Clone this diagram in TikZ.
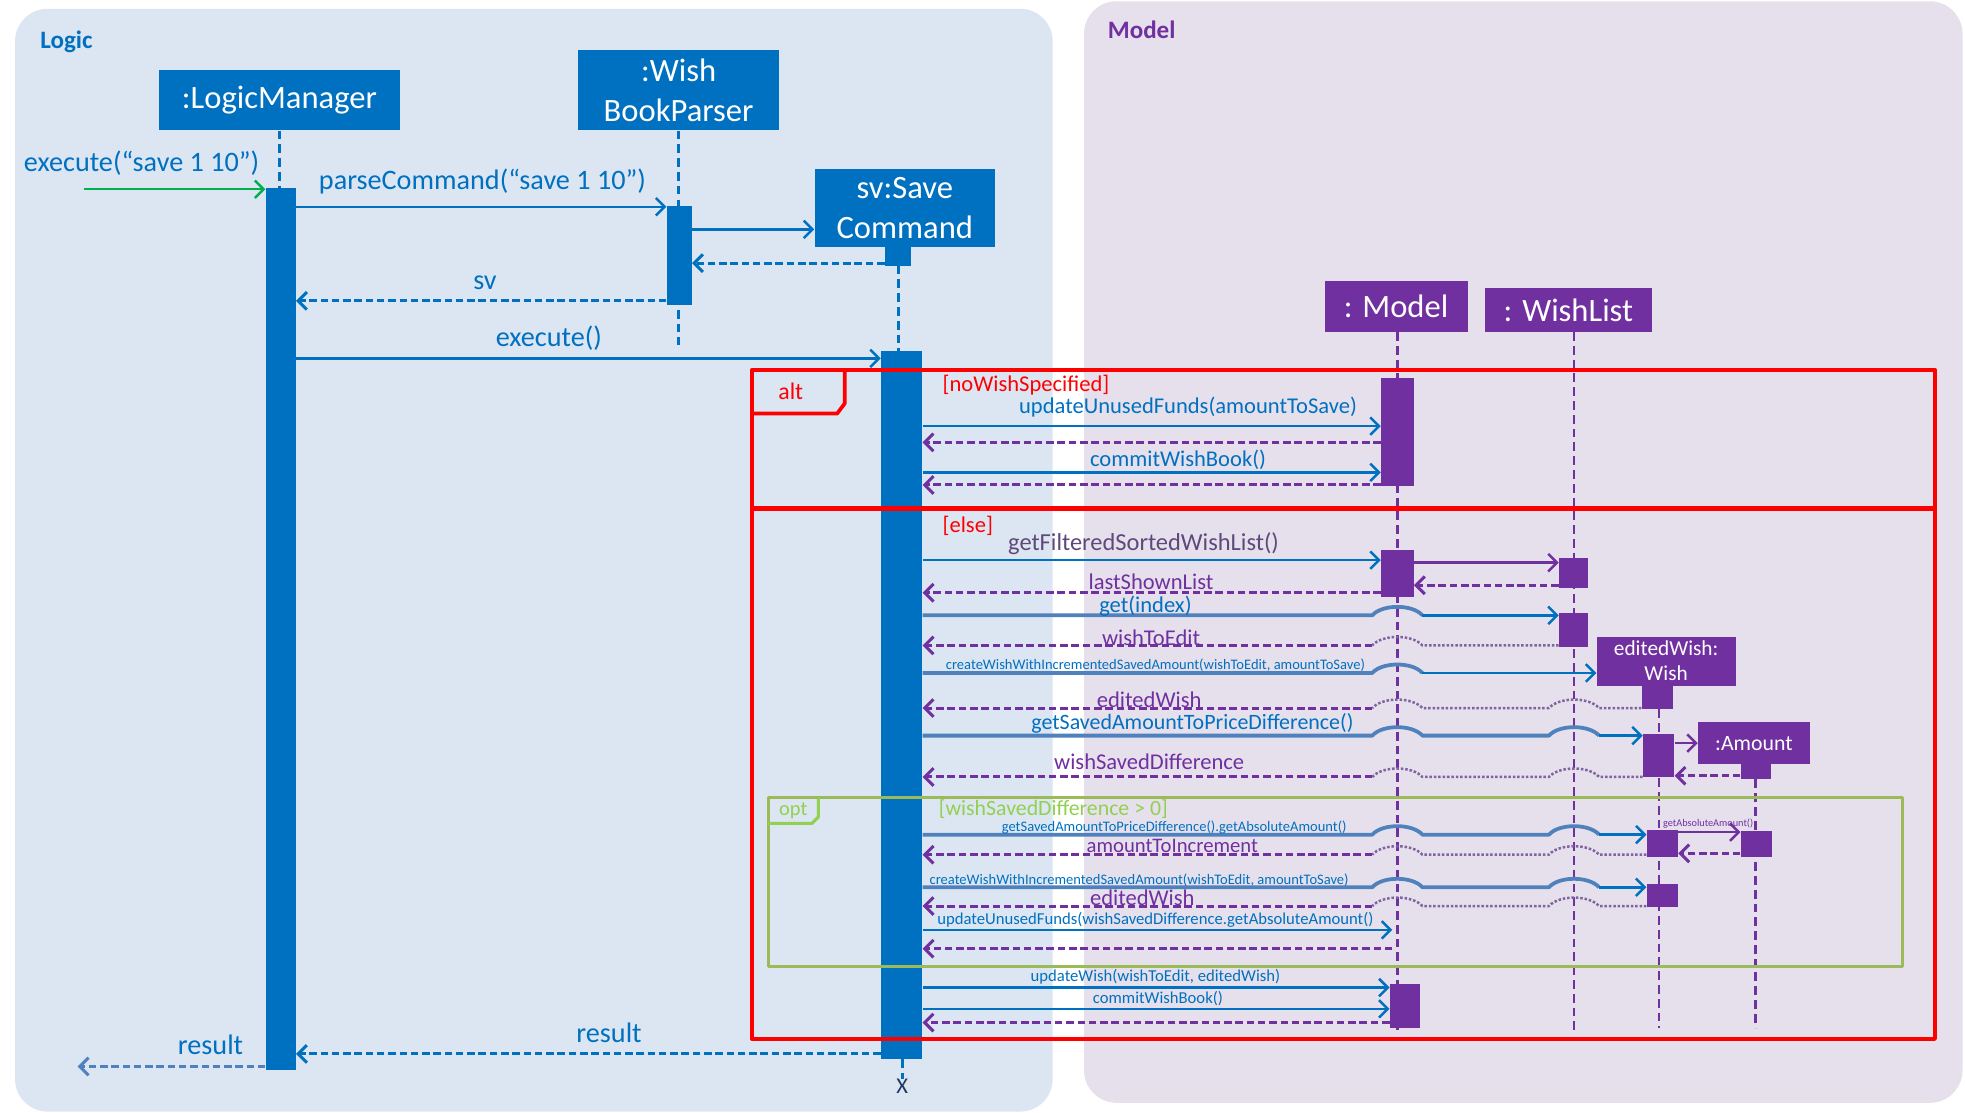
\documentclass[tikz,border=0pt]{standalone}
\usepackage{fontspec}
\setmainfont{Carlito}
\usetikzlibrary{arrows.meta,fit}

\definecolor{lblue}{HTML}{0070C0}
\definecolor{mpurple}{HTML}{7030A0}
\definecolor{steel}{HTML}{4F81BD}
\definecolor{faintp}{HTML}{8064A2}
\definecolor{optgreen}{HTML}{92D050}
\definecolor{optline}{HTML}{9BBB59}
\definecolor{ingreen}{HTML}{00B050}
\definecolor{grayp}{HTML}{5F497A}
\definecolor{logicbg}{HTML}{DCE6F2}
\definecolor{modelbg}{HTML}{E6E0EC}
\definecolor{navy}{HTML}{1F3864}

% jump over a lifeline at x=#1, height y=#2
\newcommand{\hopR}[2]{-- (#1-20,#2) .. controls (#1-12,#2-9) and (#1+12,#2-9) .. (#1+20,#2)}
\newcommand{\hopL}[2]{-- (#1+20,#2) .. controls (#1+12,#2-9) and (#1-12,#2-9) .. (#1-20,#2)}

\begin{document}
\begin{tikzpicture}[x=1pt, y=-1pt, line join=round,
  msgtip/.style={-{Straight Barb[length=7pt,width=14pt]}},
  call/.style={draw=#1, line width=2pt, msgtip}, call/.default=lblue,
  ret/.style={draw=#1, line width=2.4pt, dash pattern=on 6pt off 3pt, msgtip}, ret/.default=mpurple,
  hopline/.style={draw=steel, line width=3pt},
  hopret/.style={draw=faintp, line width=2pt, dash pattern=on 2pt off 1.5pt},
  lhead/.style={fill=#1, text=white, inner sep=0pt, align=center, font=\fontsize{26}{31.5}\selectfont},
  act/.style={fill=#1, inner sep=0pt},
  life/.style={draw=#1, line width=2pt, dash pattern=on 7pt off 4pt},
  lbl/.style={text=#1, inner sep=0pt, font=\fontsize{18}{22}\selectfont}, lbl/.default=lblue,
  fbig/.style={font=\fontsize{22.5}{27}\selectfont},
  fmid/.style={font=\fontsize{13.3}{16}\selectfont},
  fsmall/.style={font=\fontsize{11.6}{14}\selectfont},
  ftiny/.style={font=\fontsize{8.2}{10}\selectfont},
]
\useasboundingbox (0,0) rectangle (1568,888);
\fill[white] (0,0) rectangle (1568,888);

% panels
\fill[logicbg, rounded corners=26pt] (12,7) rectangle (840,887);
\fill[modelbg, rounded corners=26pt] (865,1) rectangle (1566,880);
\node[text=lblue, font=\bfseries\fontsize{20}{24}\selectfont, inner sep=0pt] (pLogic) at (53,33) {Logic};
\node[text=mpurple, font=\bfseries\fontsize{20}{24}\selectfont, inner sep=0pt] (pModel) at (911,24) {Model};

% lifeline heads
\node[lhead=lblue, minimum width=192, minimum height=48] (hLM) at (223,80) {:LogicManager};
\node[lhead=lblue, minimum width=161, minimum height=64] (hWP) at (541.5,72) {:Wish\\BookParser};
\node[lhead=lblue, minimum width=144, minimum height=62] (hSC) at (722,166) {sv:Save\\Command};
\node[lhead=mpurple, minimum width=114, minimum height=41] (hMo) at (1114,244.5) {: Model};
\node[lhead=mpurple, minimum width=133, minimum height=35] (hWL) at (1251.5,247.5) {: WishList};
\node[lhead=mpurple, minimum width=111, minimum height=39, font=\fontsize{17}{20}\selectfont] (hEW) at (1329.5,527.5) {editedWish:\\Wish};
\node[lhead=mpurple, minimum width=89, minimum height=34, font=\fontsize{17.4}{20}\selectfont] (hAm) at (1399.5,593) {:Amount};

% lifelines
\draw[life=lblue] (hLM.south) -- (hLM.south |- 0,150);
\draw[life=lblue] (hWP.south) -- (hWP.south |- 0,275);
\draw[life=lblue] (717,212) -- (717,280);
\draw[life=mpurple] (1115,265) -- (1115,823);
\draw[life=mpurple] (1256,265) -- (1256,824);
\draw[life=mpurple] (1324,566) -- (1324,820);
\draw[life=mpurple] (1401,622) -- (1401,820);

% activations
\node[act=lblue, fit={(212,150) (236,854)}] (actLM) {};
\node[act=lblue, fit={(532,164) (552,243)}] (actWP) {};
\node[act=lblue, fit={(706,196) (727,212)}] (bSC) {};
\node[act=lblue, fit={(703,280) (736,845)}] (actSC) {};
\node[act=mpurple, fit={(1102,302) (1128,388)}] (actMo1) {};
\node[act=mpurple, fit={(1102,439) (1128,476)}] (actMo2) {};
\node[act=mpurple, fit={(1109,785) (1133,820)}] (actMo3) {};
\node[act=mpurple, fit={(1244,445) (1267,469)}] (actWL1) {};
\node[act=mpurple, fit={(1244,489) (1267,516)}] (actWL2) {};
\node[act=mpurple, fit={(1310,547) (1335,566)}] (bEW) {};
\node[act=mpurple, fit={(1311,586) (1336,620)}] (actEW1) {};
\node[act=mpurple, fit={(1314,662) (1339,684)}] (actEW2) {};
\node[act=mpurple, fit={(1314,705) (1339,724)}] (actEW3) {};
\node[act=mpurple, fit={(1389,610) (1413,622)}] (bAm) {};
\node[act=mpurple, fit={(1389,663) (1414,684)}] (actAm) {};

% end of sv
\node[text=navy, font=\fontsize{18}{22}\selectfont, inner sep=0pt] (xEnd) at (720,867) {X};
\draw[life=lblue] (actSC.south -| xEnd) -- (xEnd.north);

% alt / opt frames
\draw[red, line width=3pt] (600,295) rectangle (1544,829);
\draw[red, line width=4pt] (600,406) -- (1544,406);
\draw[red, line width=3pt] (600,330) -- (668,330) -- (674,322) -- (674,295);
\node[lbl=red, font=\fontsize{19}{22}\selectfont] (tAlt) at (631,312) {alt};
\draw[optline, line width=2.5pt] (613,636.5) rectangle (1518,771);
\draw[optgreen, line width=2.5pt] (613,657) -- (648,657) -- (653,652) -- (653,636.5);
\node[lbl=optgreen, font=\fontsize{16.3}{20}\selectfont] (tOpt) at (633,647) {opt};

% logic messages
\coordinate (inStart) at (67,151);
\draw[call=ingreen] (inStart) -- (actLM.west |- inStart);
\draw[call] (actLM.east |- 0,165) -- (actWP.west |- 0,165);
\draw[call] (actWP.east |- 0,183) -- (hSC.west |- 0,183);
\draw[ret=lblue] (bSC.west |- 0,210) -- (actWP.east |- 0,210);
\draw[ret=lblue] (actWP.west |- 0,240) -- (actLM.east |- 0,240);
\draw[call] (actLM.east |- 0,286) -- (actSC.west |- 0,286);

% alt: noWishSpecified
\draw[call] (actSC.east |- 0,340) -- (actMo1.west |- 0,340);
\draw[ret] (actMo1.west |- 0,353) -- (actSC.east |- 0,353);
\draw[call] (actSC.east |- 0,377) -- (actMo1.west |- 0,377);
\draw[ret] (actMo1.west |- 0,387) -- (actSC.east |- 0,387);

% alt: else
\draw[call] (actSC.east |- 0,447) -- (actMo2.west |- 0,447);
\draw[call=mpurple] (actMo2.east |- 0,449) -- (actWL1.west |- 0,449);
\draw[ret] (actWL1.west |- 0,467) -- (actMo2.east |- 0,467);
\draw[ret] (actMo2.west |- 0,473) -- (actSC.east |- 0,473);

\draw[hopline] (actSC.east |- 0,491) \hopR{1115}{491} coordinate (hGet);
\draw[call] (hGet) -- (actWL2.west |- hGet);
\draw[hopret] (actWL2.west |- 0,515) \hopL{1115}{515} coordinate (hWte);
\draw[ret] (hWte) -- (actSC.east |- hWte);

\draw[hopline] (actSC.east |- 0,537) \hopR{1115}{537} coordinate (hCw);
\draw[call] (hCw) -- (hEW.west |- hCw);
\draw[hopret] (bEW.west |- 0,565) \hopL{1256}{565} \hopL{1115}{565} coordinate (hEw);
\draw[ret] (hEw) -- (actSC.east |- hEw);

\draw[hopline] (actSC.east |- 0,587) \hopR{1115}{587} \hopR{1256}{587} coordinate (hGsa);
\draw[call] (hGsa) -- (actEW1.west |- hGsa);
\draw[call=mpurple] (actEW1.east |- 0,593) -- (hAm.west |- 0,593);
\draw[ret] (bAm.west |- 0,619) -- (actEW1.east |- 0,619);
\draw[hopret] (actEW1.west |- 0,620) \hopL{1256}{620} \hopL{1115}{620} coordinate (hWsd);
\draw[ret] (hWsd) -- (actSC.east |- hWsd);

% opt
\draw[hopline] (actSC.east |- 0,666) \hopR{1115}{666} \hopR{1256}{666} coordinate (hAbs);
\draw[call] (hAbs) -- (actEW2.west |- hAbs);
\draw[call=mpurple] (actEW2.east |- 0,664) -- (actAm.west |- 0,664);
\draw[ret] (actAm.west |- 0,681) -- (actEW2.east |- 0,681);
\draw[hopret] (actEW2.west |- 0,682) \hopL{1256}{682} \hopL{1115}{682} coordinate (hAti);
\draw[ret] (hAti) -- (actSC.east |- hAti);

\draw[hopline] (actSC.east |- 0,708) \hopR{1115}{708} \hopR{1256}{708} coordinate (hCw2);
\draw[call] (hCw2) -- (actEW3.west |- hCw2);
\draw[hopret] (actEW3.west |- 0,723) \hopL{1256}{723} \hopL{1115}{723} coordinate (hEw2);
\draw[ret] (hEw2) -- (actSC.east |- hEw2);

\coordinate (xMo) at (1111,0);
\draw[call] (actSC.east |- 0,742) -- (xMo |- 0,742);
\draw[ret] (xMo |- 0,757) -- (actSC.east |- 0,757);

% after opt
\draw[call] (actSC.east |- 0,788) -- (actMo3.west |- 0,788);
\draw[call] (actSC.east |- 0,805) -- (actMo3.west |- 0,805);
\draw[ret] (actMo3.west |- 0,816) -- (actSC.east |- 0,816);

% results
\draw[ret=lblue] (actSC.west |- 0,841) -- (actLM.east |- 0,841);
\coordinate (outEnd) at (62,851);
\draw[ret=steel] (actLM.west |- outEnd) -- (outEnd);

% labels
\node[lbl, fbig] (tExec) at (113,130) {execute(“save 1 10”)};
\node[lbl, fbig] (tParse) at (385,145) {parseCommand(“save 1 10”)};
\node[lbl, fbig] (tSv) at (387,226) {sv};
\node[lbl, fbig] (tExec2) at (438,270) {execute()};
\node[lbl=red, anchor=west] (gNoWish) at (752,307) {[noWishSpecified]};
\node[lbl] (tUpd) at (948,325) {updateUnusedFunds(amountToSave)};
\node[lbl] (tCommit) at (940,367) {commitWishBook()};
\node[lbl=red, anchor=west] (gElse) at (752,420) {[else]};
\node[lbl=grayp, font=\fontsize{19.5}{23}\selectfont] (tGetF) at (912.5,434) {getFilteredSortedWishList()};
\node[lbl=mpurple] (tLast) at (918.5,464) {lastShownList};
\node[lbl] (tGet) at (914,484) {get(index)};
\node[lbl=mpurple] (tWte) at (918.5,508.5) {wishToEdit};
\node[lbl, fsmall] (tCw) at (922,530.5) {createWishWithIncrementedSavedAmount(wishToEdit, amountToSave)};
\node[lbl=mpurple] (tEw) at (917,558.5) {editedWish};
\node[lbl, font=\fontsize{17.5}{21}\selectfont] (tGsa) at (951.5,577.5) {getSavedAmountToPriceDifference()};
\node[lbl=mpurple] (tWsd) at (917,608) {wishSavedDifference};
\node[lbl=optgreen, anchor=west, font=\fontsize{17.4}{21}\selectfont] (gOpt) at (749,645.5) {[wishSavedDifference > 0]};
\node[lbl, fsmall] (tGsaAbs) at (937,660) {getSavedAmountToPriceDifference().getAbsoluteAmount()};
\node[lbl=mpurple, ftiny] (tAbs) at (1363,657) {getAbsoluteAmount()};
\node[lbl=mpurple, font=\fontsize{16.5}{20}\selectfont] (tAti) at (935.5,675) {amountToIncrement};
\node[lbl, fsmall] (tCw2) at (909,702) {createWishWithIncrementedSavedAmount(wishToEdit, amountToSave)};
\node[lbl=mpurple] (tEw2) at (911.5,716.5) {editedWish};
\node[lbl, fmid] (tUpd2) at (922,734) {updateUnusedFunds(wishSavedDifference.getAbsoluteAmount()};
\node[lbl, fmid] (tUpdW) at (922,779.5) {updateWish(wishToEdit, editedWish)};
\node[lbl, fmid] (tCommit2) at (924,797) {commitWishBook()};
\node[lbl, fbig] (tRes) at (486,824) {result};
\node[lbl, fbig] (tRes2) at (168,834) {result};
\end{tikzpicture}
\end{document}
